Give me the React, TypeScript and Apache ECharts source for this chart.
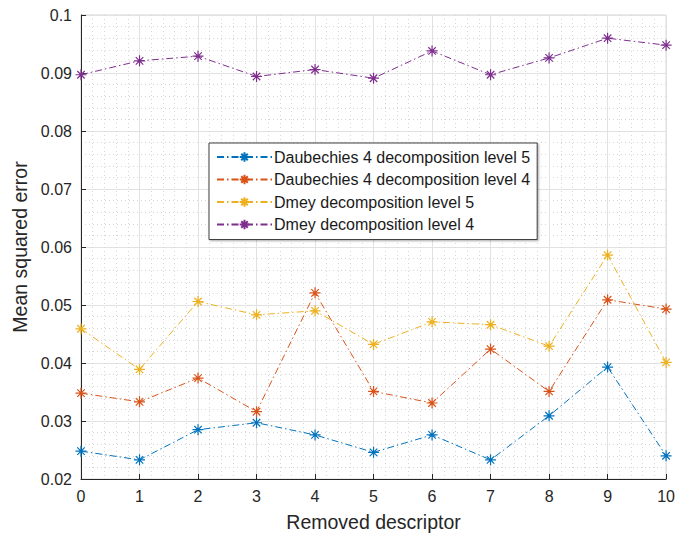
import React, { useEffect, useRef } from "react";
import * as echarts from "echarts";

const categories = [0, 1, 2, 3, 4, 5, 6, 7, 8, 9, 10];
const seriesNames = [
  "Daubechies 4 decomposition level 5",
  "Daubechies 4 decomposition level 4",
  "Dmey decomposition level 5",
  "Dmey decomposition level 4",
];
const db4Level5 = [0.0248, 0.0233, 0.0285, 0.0297, 0.0276, 0.0246, 0.0276, 0.0233, 0.0309, 0.0393, 0.024];
const db4Level4 = [0.0348, 0.0333, 0.0374, 0.0316, 0.0521, 0.0351, 0.0331, 0.0424, 0.0351, 0.0509, 0.0493];
const dmeyLevel5 = [0.0459, 0.0389, 0.0506, 0.0483, 0.049, 0.0432, 0.0471, 0.0466, 0.0429, 0.0586, 0.0401];
const dmeyLevel4 = [0.0897, 0.0921, 0.0929, 0.0894, 0.0906, 0.0891, 0.0938, 0.0897, 0.0926, 0.096, 0.0948];
const colors = ["#0072BD", "#D95319", "#EDB120", "#7E2F8E"];
const yTicks = { min: 0.02, max: 0.1, interval: 0.01 };

const star = "path://M5,0L5,10M0,5L10,5M1.6,1.6L8.4,8.4M8.4,1.6L1.6,8.4";

export default function App() {
  const ref = useRef<HTMLDivElement>(null);
  useEffect(() => {
    if (!ref.current) return;
    const chart = echarts.init(ref.current, undefined, { renderer: "svg" });
    const allData = [db4Level5, db4Level4, dmeyLevel5, dmeyLevel4];
    const font = "Arial, 'Liberation Sans', sans-serif";
    chart.setOption({
      animation: false,
      textStyle: { fontFamily: font },
      grid: {
        left: 81,
        right: 8,
        top: 15,
        bottom: 57,
        show: true,
        borderColor: "#d4d4d4",
        borderWidth: 1,
        backgroundColor: "#fff",
      },
      legend: {
        orient: "vertical",
        left: 209,
        top: 143,
        padding: [6, 7, 7, 7],
        itemWidth: 55,
        itemHeight: 12,
        itemGap: 6.5,
        backgroundColor: "#fff",
        borderColor: "#404040",
        borderWidth: 1,
        shadowColor: "rgba(0,0,0,0.35)",
        shadowBlur: 2,
        shadowOffsetX: 1,
        shadowOffsetY: 1,
        textStyle: { fontSize: 16, color: "#1a1a1a", fontFamily: font, padding: [0, 0, 0, -3] },
        data: seriesNames,
      },
      xAxis: {
        type: "value",
        min: 0,
        max: 10,
        interval: 1,
        name: "Removed descriptor",
        nameLocation: "middle",
        nameGap: 33,
        nameTextStyle: { fontSize: 19.5, color: "#262626" },
        axisLine: { show: true, lineStyle: { color: "#262626", width: 1 } },
        axisTick: { show: true, inside: true, length: 5, lineStyle: { color: "#262626" } },
        axisLabel: { fontSize: 16, color: "#262626", margin: 9 },
        splitLine: { show: true, lineStyle: { color: "#e2e2e2", width: 1 } },
        minorTick: { show: false, splitNumber: 5 },
        minorSplitLine: { show: true, lineStyle: { color: "#d6d6d6", type: [1, 3], width: 1 } },
      },
      yAxis: {
        type: "value",
        min: yTicks.min,
        max: yTicks.max,
        interval: yTicks.interval,
        name: "Mean squared error",
        nameLocation: "middle",
        nameGap: 49,
        nameTextStyle: { fontSize: 19.5, color: "#262626" },
        axisLine: { show: true, lineStyle: { color: "#262626", width: 1 } },
        axisTick: { show: true, inside: true, length: 5, lineStyle: { color: "#262626" } },
        axisLabel: {
          fontSize: 16,
          color: "#262626",
          margin: 9,
          formatter: (v: number) => String(parseFloat(v.toFixed(3))),
        },
        splitLine: { show: true, lineStyle: { color: "#e2e2e2", width: 1 } },
        minorTick: { show: false, splitNumber: 5 },
        minorSplitLine: { show: true, lineStyle: { color: "#d6d6d6", type: [1, 3], width: 1 } },
      },
      series: seriesNames.map((name, i) => ({
        name,
        type: "line",
        color: colors[i],
        data: categories.map((c, j) => [c, allData[i][j]]),
        symbol: star,
        symbolSize: 11,
        showAllSymbol: true,
        itemStyle: { color: colors[i], borderColor: colors[i], borderWidth: 1.2 },
        lineStyle: { color: colors[i], width: 1, type: [7, 3, 1.5, 3] },
        emphasis: { disabled: true },
      })),
    });
    return () => chart.dispose();
  }, []);
  return <div ref={ref} style={{ width: 678, height: 537, position: "absolute", left: 0, top: 0 }} />;
}
